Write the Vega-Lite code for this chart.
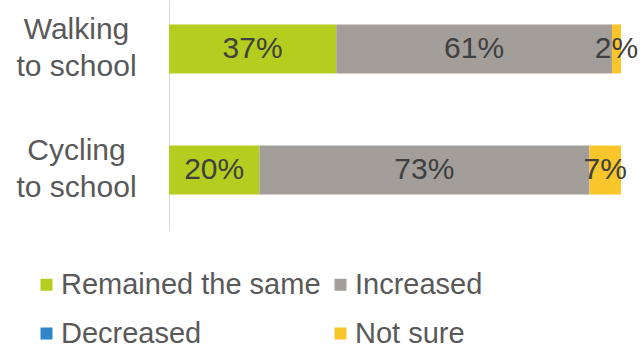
{
  "$schema": "https://vega.github.io/schema/vega-lite/v6.json",
  "width": 452,
  "height": 230,
  "autosize": {"type": "none"},
  "padding": {"left": 169, "top": 0, "right": 19, "bottom": 114},
  "background": "white",
  "config": {"view": {"stroke": null}, "font": "Liberation Sans"},
  "data": {
    "values": [
      {"mode": "Walking to school", "response": "Remained the same", "value": 37, "label": "37%", "ord": 1},
      {"mode": "Walking to school", "response": "Increased", "value": 61, "label": "61%", "ord": 2},
      {"mode": "Walking to school", "response": "Decreased", "value": 0, "label": "", "ord": 3},
      {"mode": "Walking to school", "response": "Not sure", "value": 2, "label": "2%", "ord": 4},
      {"mode": "Cycling to school", "response": "Remained the same", "value": 20, "label": "20%", "ord": 1},
      {"mode": "Cycling to school", "response": "Increased", "value": 73, "label": "73%", "ord": 2},
      {"mode": "Cycling to school", "response": "Decreased", "value": 0, "label": "", "ord": 3},
      {"mode": "Cycling to school", "response": "Not sure", "value": 7, "label": "7%", "ord": 4}
    ]
  },
  "transform": [
    {"stack": "value", "groupby": ["mode"], "sort": [{"field": "ord", "order": "ascending"}], "as": ["x0", "x1"]},
    {"calculate": "(datum.x0 + datum.x1) / 2", "as": "mid"}
  ],
  "encoding": {
    "y": {
      "field": "mode",
      "type": "nominal",
      "sort": ["Walking to school", "Cycling to school"],
      "scale": {"paddingInner": 0.595, "paddingOuter": 0.2477, "align": 0.408},
      "axis": {
        "title": null,
        "ticks": false,
        "domainColor": "#d9d9d9",
        "domainWidth": 1,
        "labelExpr": "split(datum.label, ' to ')[0] == datum.label ? datum.label : [split(datum.label, ' to ')[0], 'to school']",
        "labelAlign": "center",
        "labelBaseline": "middle",
        "labelOffset": -19,
        "labelPadding": 93,
        "labelFontSize": 30,
        "labelLineHeight": 37,
        "labelColor": "#595959",
        "labelFont": "Liberation Sans"
      }
    }
  },
  "layer": [
    {
      "mark": {"type": "bar"},
      "encoding": {
        "x": {"field": "x0", "type": "quantitative", "scale": {"domain": [0, 100]}, "axis": null},
        "x2": {"field": "x1"},
        "color": {
          "field": "response",
          "type": "nominal",
          "scale": {
            "domain": ["Remained the same", "Increased", "Decreased", "Not sure"],
            "range": ["#b5cd1f", "#a39e99", "#2f86c6", "#f8c52a"]
          },
          "legend": {
            "title": null,
            "orient": "none",
            "legendX": -137,
            "legendY": 270,
            "direction": "horizontal",
            "columns": 2,
            "padding": 0,
            "symbolType": "square",
            "symbolSize": 144,
            "symbolStrokeWidth": 0,
            "labelFontSize": 29,
            "labelLimit": 400,
            "labelFont": "Liberation Sans",
            "labelColor": "#595959",
            "labelOffset": 0,
            "columnPadding": 5,
            "rowPadding": 19
          }
        }
      }
    },
    {
      "mark": {"type": "text", "fontSize": 30, "color": "#404040", "font": "Liberation Sans", "baseline": "middle", "align": "center"},
      "encoding": {
        "x": {"field": "mid", "type": "quantitative"},
        "text": {"field": "label"}
      }
    }
  ]
}
